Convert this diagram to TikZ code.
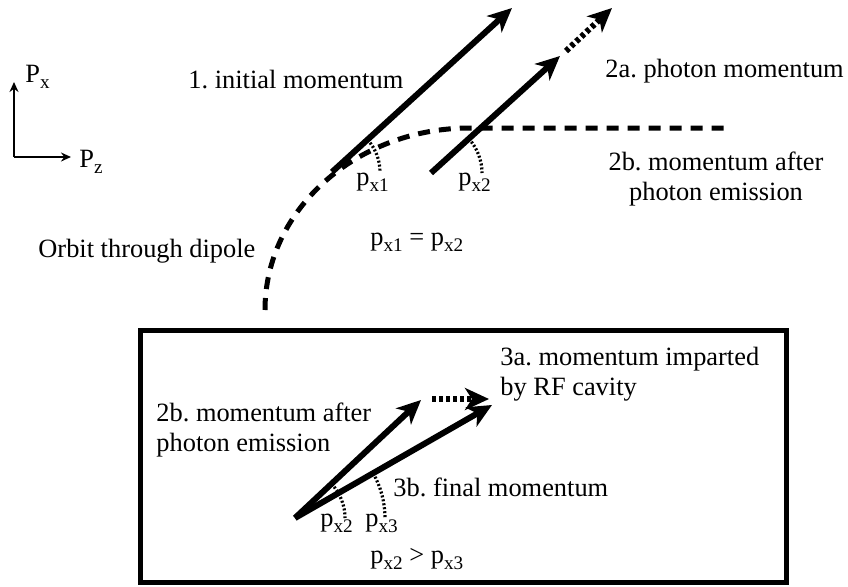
\documentclass[tikz,border=0pt]{standalone}
\usepackage{fontspec}
\setmainfont{Liberation Serif}
\usetikzlibrary{arrows.meta}
\newcommand{\lsub}[1]{\raisebox{-3pt}{\fontsize{9.6}{10}\selectfont #1}}

\begin{document}
\frenchspacing
\begin{tikzpicture}[
		x=0.5pt, y=0.5pt,
		font=\fontsize{13.2}{15}\selectfont,
		% Style for the momentum vectors
		vec/.style={line width=3pt, -{Stealth[length=12pt, width=11pt, inset=3.5pt]}},
		dotvec/.style={vec, dash pattern=on 2pt off 1.5pt},
		% Orbit and angle marks
		orbit/.style={line width=2.5pt, dash pattern=on 6pt off 4.5pt},
		angle arc/.style={line width=1.6pt, dash pattern=on 1pt off 1pt},
		axis/.style={line width=1pt, -{Stealth[length=5pt, width=4.5pt]}},
		box/.style={line width=2.5pt},
		% Text
		lbl/.style={inner sep=0pt, anchor=base west},
		block/.style={inner sep=0pt, align=left}
		]
		\useasboundingbox (0,0) rectangle (848,586);
		
		% AXES
		\coordinate (origin) at (14,429);
		\coordinate (px tip) at (14,504);
		\coordinate (pz tip) at (71,429);
		\draw[axis] (origin) -- (px tip);
		\draw[axis] (origin) -- (pz tip);
		\node[lbl] (px lbl) at (25,504) {P\lsub{x}};
		\node[lbl] (pz lbl) at (79,419) {P\lsub{z}};
		
		% ORBIT through the dipole
		\coordinate (orbit start) at (265,276);
		\coordinate (orbit end) at (727,458);
		\draw[orbit] (orbit start) arc[start angle=180, end angle=90, x radius=205, y radius=182] -- (orbit end);
		\node[lbl] (orbit lbl) at (38,329) {Orbit through dipole};
		
		% 1. initial momentum
		\coordinate (p1 start) at (332,414);
		\coordinate (p1 tip) at (512,578);
		\draw[vec] (p1 start) -- (p1 tip);
		\draw[angle arc] (p1 start) ++(42.3:48) arc[start angle=42.3, end angle=0, radius=48];
		\node[lbl] (init lbl) at (188,498) {1. initial momentum};
		\node[lbl] (px1 lbl) at (356,401) {p\lsub{x1}};
		
		% 2a. photon, 2b. after emission
		\coordinate (p2 start) at (431,413);
		\coordinate (p2 tip) at (560,530);
		\coordinate (ph start) at (566,535);
		\coordinate (ph tip) at (612,578);
		\draw[vec] (p2 start) -- (p2 tip);
		\draw[dotvec] (ph start) -- (ph tip);
		\draw[angle arc] (p2 start) ++(42.2:51) arc[start angle=42.2, end angle=0, radius=51];
		\node[lbl] (px2 lbl) at (458,401) {p\lsub{x2}};
		\node[lbl] (photon lbl) at (605,509) {2a. photon momentum};
		\node[block, align=center, anchor=north] (after lbl) at (716,434) {2b. momentum after\\photon emission};
		\node[lbl] (eq lbl) at (370,341) {p\lsub{x1} = p\lsub{x2}};
		
		% BOX: RF cavity
		\draw[box] (140,4) rectangle (786,256);
		\coordinate (b start) at (295,68);
		\coordinate (b2 tip) at (421,186);
		\coordinate (rf start) at (432,187);
		\coordinate (rf tip) at (489,187);
		\coordinate (b3 tip) at (492,181);
		\draw[vec] (b start) -- (b2 tip);
		\draw[dotvec] (rf start) -- (rf tip);
		\draw[vec] (b start) -- (b3 tip);
		\draw[angle arc] (b start) ++(43.1:50) arc[start angle=43.1, end angle=0, radius=50];
		\draw[angle arc] (b start) ++(29.8:90) arc[start angle=29.8, end angle=0, radius=90];
		\node[block, anchor=north west] (rf lbl) at (500,239) {3a. momentum imparted\\by RF cavity};
		\node[block, anchor=north west] (emit lbl) at (156,183) {2b. momentum after\\photon emission};
		\node[lbl] (final lbl) at (393,90) {3b. final momentum};
		\node[lbl] (bpx2 lbl) at (320,60) {p\lsub{x2}};
		\node[lbl] (bpx3 lbl) at (365,60) {p\lsub{x3}};
		\node[lbl] (ineq lbl) at (370,23) {p\lsub{x2} > p\lsub{x3}};
	\end{tikzpicture}
\end{document}
